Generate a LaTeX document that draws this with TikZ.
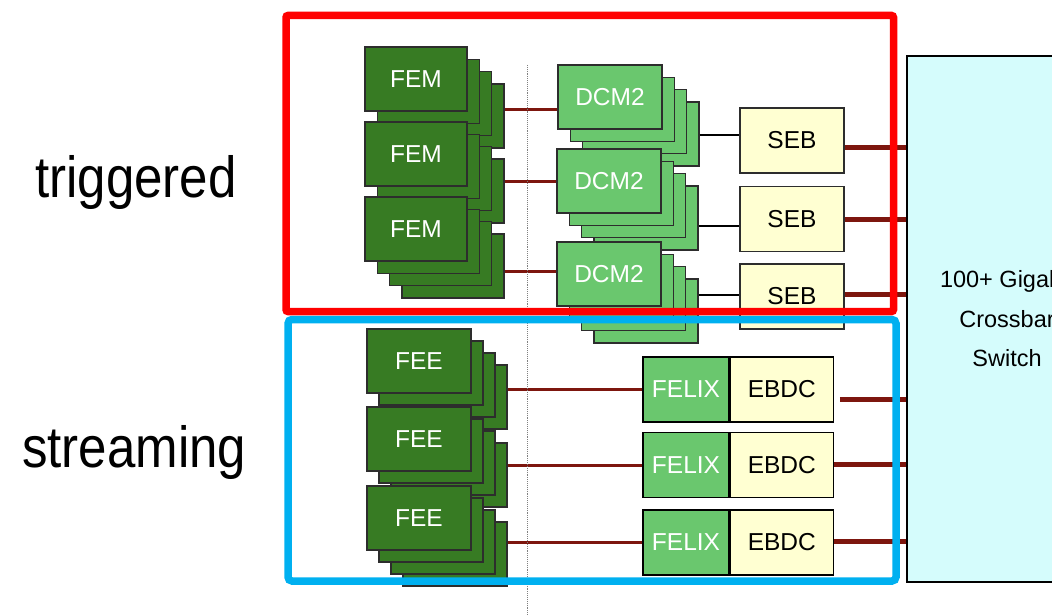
\documentclass[tikz,border=0pt]{standalone}
\usepackage{fontspec}
\setmainfont{Liberation Sans}
\newfontfamily\labelfont[FakeStretch=0.88]{Liberation Sans}
\usetikzlibrary{positioning}
\definecolor{cDark}{RGB}{55,123,35}
\definecolor{cLight}{RGB}{106,199,110}
\definecolor{cCream}{RGB}{255,255,210}
\definecolor{cCyan}{RGB}{213,252,252}
\definecolor{cWire}{RGB}{125,22,14}
\definecolor{cTrig}{RGB}{255,0,0}
\definecolor{cStream}{RGB}{0,176,240}
\definecolor{cEdge}{RGB}{45,45,45}
\tikzset{
	card/.style     ={rectangle, draw=cEdge, line width=1.3pt, inner sep=0pt, minimum height=64pt, font=\fontsize{24.5}{28}\selectfont},
	femcard/.style  ={card, fill=cDark, text=white, minimum width=102pt},
	feecard/.style  ={card, fill=cDark, text=white, minimum width=104pt},
	dcmcard/.style  ={card, fill=cLight, text=white, minimum width=104pt},
	sebcard/.style  ={card, fill=cCream, minimum width=104pt, minimum height=65pt},
	felixcard/.style={card, draw=black, fill=cLight, text=white, minimum width=86pt, minimum height=65pt},
	ebdccard/.style ={card, draw=black, fill=cCream, minimum width=103pt, minimum height=65pt},
	swbox/.style    ={rectangle, draw=black, line width=1.3pt, fill=cCyan, align=center, font=\fontsize{23.5}{39.5}\selectfont},
	frame/.style    ={rectangle, line width=7.5pt, inner sep=0pt},
	wire/.style     ={cWire, line width=3pt},
	fatwire/.style  ={cWire, line width=5pt},
	ctrl/.style     ={black, line width=2.5pt},
	grouplabel/.style={anchor=base west, inner sep=0pt, font=\labelfont\fontsize{58}{60}\selectfont},
}
\begin{document}
\begin{tikzpicture}[x=1pt, y=-1pt]
	\useasboundingbox (0,0) rectangle (1052,615);
	\clip (0,0) rectangle (1052,615);
	% group labels
	\node[grouplabel] (lbltrig) at (35,197) {triggered};
	\node[grouplabel] (lblstream) at (22,467) {streaming};
	% crossbar switch (cut by the right edge)
	\node[swbox, minimum width=200pt, minimum height=526pt] (sw) at (1007,319) {100+ Gigabit\\ Crossbar\\ Switch};
	% FEM and DCM2 stacks, back card first
	\foreach \s/\y in {1/47, 2/122, 3/197} {
		\foreach \k in {3,2,1,0}
			\node[femcard] (fem\s-\k) at ({416+12.3*\k},{\y+32+12.3*\k}) {\ifnum\k=0 FEM\fi};
	}
	\foreach \s/\x/\y in {1/558/65, 2/557/149, 3/557/242} {
		\foreach \k in {3,2,1,0}
			\node[dcmcard] (dcm\s-\k) at ({\x+52+12.3*\k},{\y+32+12.3*\k}) {\ifnum\k=0 DCM2\fi};
	}
	\node[sebcard] (seb1) at (792,140.5) {SEB};
	\node[sebcard] (seb2) at (792,219) {SEB};
	\node[sebcard] (seb3) at (792,296.5) {SEB};
	% FEE stacks and FELIX/EBDC pairs
	\foreach \s/\y in {1/329, 2/407, 3/486} {
		\foreach \k in {3,2,1,0}
			\node[feecard] (fee\s-\k) at ({419+12*\k},{\y+32+12*\k}) {\ifnum\k=0 FEE\fi};
	}
	\foreach \s/\y in {1/389.5, 2/465, 3/542.5} {
		\node[felixcard] (felix\s) at (686,\y) {FELIX};
		\node[ebdccard, right=0pt of felix\s] (ebdc\s) {EBDC};
	}
	% links
	\foreach \s/\dy in {1/6, 2/9, 3/-6}
		\draw[wire] ([yshift=\dy pt]fem\s-3.east) coordinate (fa\s) -- (fa\s -| dcm\s-0.west);
	\foreach \s/\dy in {1/-1, 2/-8, 3/16}
		\draw[ctrl] ([yshift=\dy pt]dcm\s-3.east) coordinate (da\s) -- (da\s -| seb\s.west);
	\foreach \s/\dy in {1/-7.5, 2/0, 3/2.5}
		\draw[fatwire] ([yshift=\dy pt]seb\s.east) coordinate (sa\s) -- (sa\s -| sw.west);
	\foreach \s in {1,2,3}
		\draw[wire] (fee\s-3.east |- felix\s.west) -- (felix\s.west);
	\draw[fatwire] ([xshift=6pt, yshift=-9.5pt]ebdc1.east) coordinate (ea1) -- (ea1 -| sw.west);
	\draw[fatwire] ([yshift=1pt]ebdc2.east) coordinate (ea2) -- (ea2 -| sw.west);
	\draw[fatwire] ([yshift=1.5pt]ebdc3.east) coordinate (ea3) -- (ea3 -| sw.west);
	% divider
	\draw[densely dotted, gray, line width=0.9pt] (527,65) -- (527,615);
	% group frames
	\node[frame, draw=cTrig, rounded corners=2pt, minimum width=607.5pt, minimum height=296pt] (trig) at (589.75,163.5) {};
	\node[frame, draw=cStream, rounded corners=4pt, minimum width=608pt, minimum height=261.5pt] (stream) at (592,450.25) {};
\end{tikzpicture}
\end{document}
